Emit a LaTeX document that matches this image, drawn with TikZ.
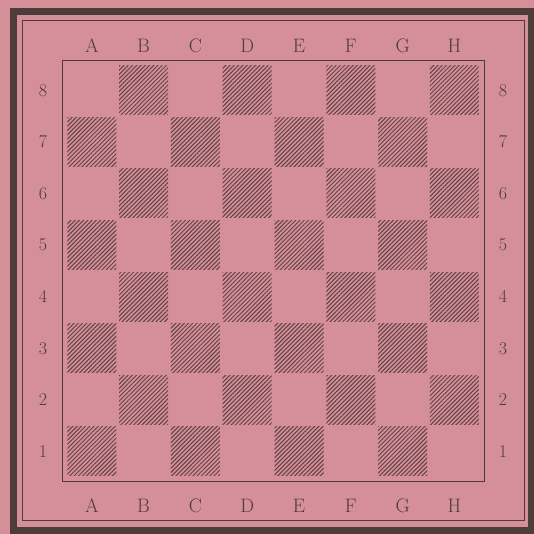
\documentclass[tikz,border=0pt]{standalone}
\usetikzlibrary{positioning}
\usetikzlibrary{patterns.meta}
\definecolor{paper}{RGB}{213,143,153}
\definecolor{ink}{RGB}{78,60,58}
\definecolor{hatch}{RGB}{96,66,70}
\tikzset{
    x=1pt, y=-1pt,
    frame/.style={
        draw=ink,
        line width=7pt
    },
    rule/.style={
        draw=ink,
        line width=0.8pt
    },
    darksq/.style={
        minimum size=49pt,
        inner sep=0pt,
        pattern={Lines[angle=45, distance=3pt, line width=1pt]},
        pattern color=hatch
    },
    coordlabel/.style={
        text=ink,
        inner sep=0pt,
        font=\fontsize{18}{20}\selectfont
    },
    filelabel/.style={
        coordlabel,
        font=\fontsize{19.5}{22}\selectfont
    }
}
\begin{document}
\begin{tikzpicture}
            \useasboundingbox (0,0) rectangle (534,533);
            \fill[paper] (-5,-5) rectangle (540,540);

            % outer frame and inner rule
            \draw[frame] (13.5,11.5) rectangle (531,530.5);
            \draw[rule] (22.5,20) rectangle (524,520.5);

            % board
            \draw[rule] (62.3,60.3) rectangle (484,481);
            \foreach \r in {1,...,8} {
                \foreach \c in {1,...,8} {
                    \pgfmathtruncatemacro{\s}{\c+\r}
                    \ifodd\s\else
                        \node[darksq] (sq-\c-\r) at ({91.8+51.8*(\c-1)},{90.2+51.6*(8-\r)}) {};
                    \fi
                }
            }

            % files
            \foreach \F [count=\c] in {A,B,C,D,E,F,G,H} {
                \node[filelabel] (top-\c) at ({91.8+51.8*(\c-1)},45.7) {\F};
                \node[filelabel] (bot-\c) at ({91.8+51.8*(\c-1)},506) {\F};
            }

            % ranks
            \foreach \r in {1,...,8} {
                \node[coordlabel] (left-\r) at (43,{90.2+51.6*(8-\r)}) {\r};
                \node[coordlabel] (right-\r) at (503,{90.2+51.6*(8-\r)}) {\r};
            }
        \end{tikzpicture}
\end{document}
